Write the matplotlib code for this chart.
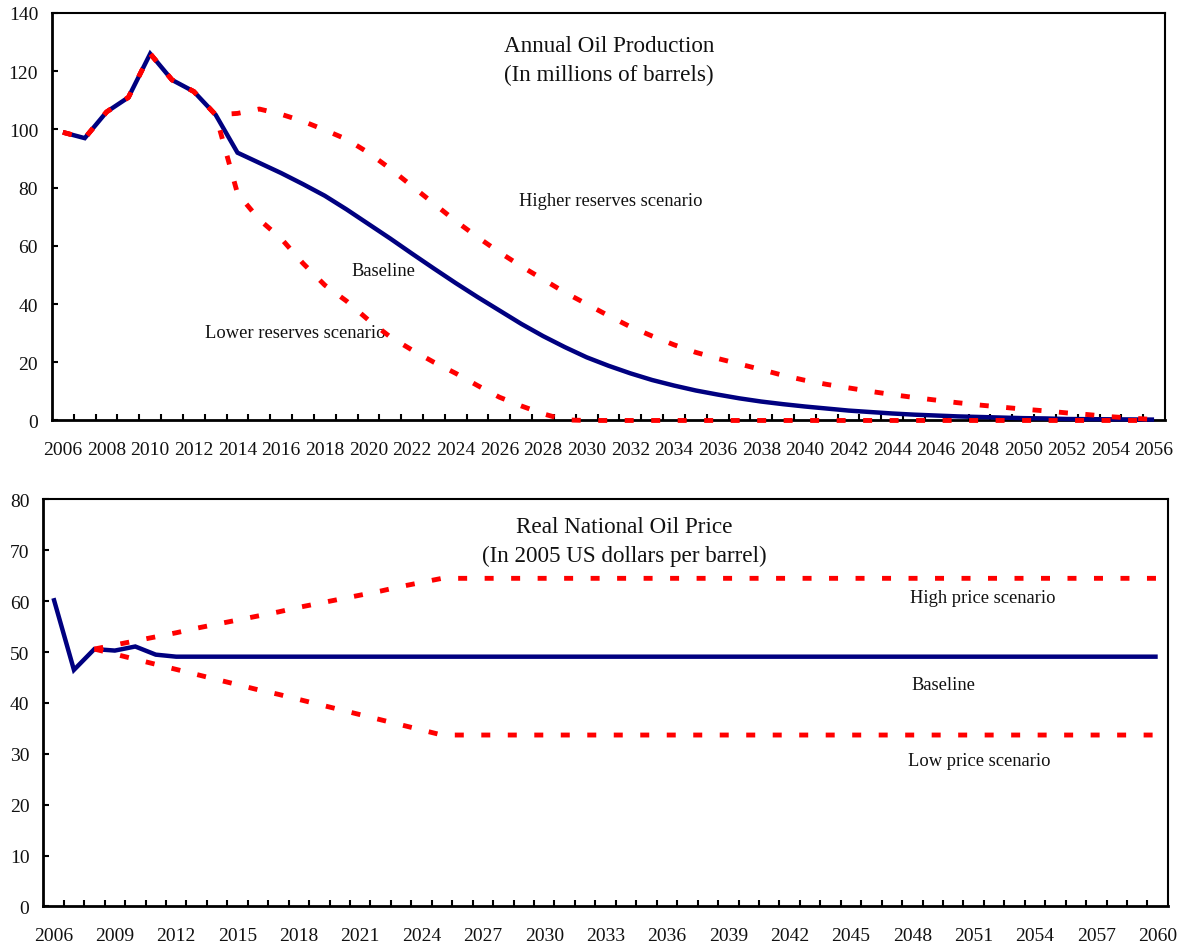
import matplotlib
matplotlib.use("Agg")
import matplotlib.pyplot as plt
import numpy as np

plt.rcParams['font.family'] = ['Liberation Serif', 'DejaVu Serif']

# ---------------- Data: Annual Oil Production ----------------
prod_years = list(range(2006, 2057))
prod_baseline = [99, 97, 106, 111, 126, 117, 113, 105, 92, 88.5,
                 85, 81.2, 77.2, 72.5, 67.5, 62.5, 57.3, 52.2, 47.2, 42.4,
                 37.8, 33.2, 29.0, 25.2, 21.7, 18.8, 16.2, 13.9, 12.0, 10.3,
                 8.9, 7.6, 6.5, 5.6, 4.8, 4.1, 3.4, 2.9, 2.4, 2.0,
                 1.7, 1.4, 1.2, 1.0, 0.8, 0.7, 0.5, 0.45, 0.4, 0.35, 0.3]
prod_higher = [99, 97, 106, 111, 126, 117, 113, 105, 105.5, 107,
               105.2, 102.8, 99.8, 96.6, 92, 86.5, 80.5, 74.5, 68.5, 63,
               57.8, 53, 48.5, 44, 40, 36, 32.2, 29, 26, 23.4,
               21.3, 19.4, 17.5, 15.5, 13.8, 12.4, 11.2, 10, 8.9, 7.9,
               7, 6.1, 5.3, 4.6, 3.9, 3.3, 2.6, 2.0, 1.3, 0.8, 0.3]
prod_lower = [99, 97, 106, 111, 126, 117, 113, 105, 78, 69,
              62.5, 54, 46.5, 41, 34.5, 28.7, 24.2, 20, 16.2, 12,
              8, 5, 2.3, 0.2, 0, 0, 0, 0, 0, 0,
              0, 0, 0, 0, 0, 0, 0, 0, 0, 0,
              0, 0, 0, 0, 0, 0, 0, 0, 0, 0, 0]
prod_tick_labels = [str(y) for y in range(2006, 2057, 2)]

# ---------------- Data: Real National Oil Price ----------------
price_years = list(range(2006, 2061))
price_baseline = [60.6, 46.5, 50.6, 50.3, 51.1, 49.5] + [49.1] * 49
price_high = [np.nan, np.nan,
              50.6, 51.4, 52.2, 53.0, 53.8, 54.7, 55.5, 56.3, 57.1, 57.9,
              58.8, 59.6, 60.4, 61.2, 62.0, 62.9, 63.7, 64.5] + [64.5] * 35
price_low = [np.nan, np.nan,
             50.6, 49.6, 48.6, 47.6, 46.6, 45.6, 44.6, 43.6, 42.6, 41.7,
             40.7, 39.7, 38.7, 37.7, 36.7, 35.7, 34.7, 33.7] + [33.7] * 35
price_tick_labels = [str(y) for y in range(2006, 2061, 3)]

NAVY = '#000080'
RED = '#ff0000'
TXT = '#111111'

fig = plt.figure(figsize=(11.82, 9.45), dpi=100)
ax1 = fig.add_axes([0.0440, 0.554, 0.9416, 0.4312])
ax2 = fig.add_axes([0.0366, 0.0397, 0.9515, 0.4307])


def style_axis(ax, n, labeled_years, all_years):
    ax.set_xlim(-0.5, n - 0.5)
    # tick marks between categories
    ax.set_xticks([i + 0.5 for i in range(n - 1)])
    ax.set_xticklabels([])
    ax.tick_params(axis='x', which='major', direction='in', length=4.5,
                   width=1.5, color='black')
    # labels at category centres
    pos = [all_years.index(int(l)) for l in labeled_years]
    ax.set_xticks(pos, minor=True)
    ax.set_xticklabels(labeled_years, minor=True)
    ax.tick_params(axis='x', which='minor', length=0, pad=14.5,
                   labelsize=14, labelcolor=TXT)
    ax.tick_params(axis='y', direction='in', length=4.5, width=1.5,
                   pad=10, labelsize=14, labelcolor=TXT)
    for s in ['left', 'bottom']:
        ax.spines[s].set_linewidth(2.0)
    for s in ['top', 'right']:
        ax.spines[s].set_linewidth(1.5)


# ---------------- Top chart ----------------
x1 = np.arange(len(prod_years))
ax1.plot(x1, prod_baseline, color=NAVY, lw=3.2, solid_capstyle='butt',
         solid_joinstyle='miter', clip_on=False, zorder=3)
ax1.plot(x1, prod_higher, color=RED, lw=3.5, dashes=(1.85, 3.6),
         clip_on=False, zorder=4)
ax1.plot(x1, prod_lower, color=RED, lw=3.5, dashes=(1.85, 3.6),
         clip_on=False, zorder=4)
ax1.set_ylim(0, 140)
ax1.set_yticks(range(0, 141, 20))
style_axis(ax1, len(prod_years), prod_tick_labels, prod_years)

ax1.text(25.02, 128.8, 'Annual Oil Production', ha='center', va='center',
         fontsize=16.7, color=TXT)
ax1.text(25.02, 119.0, '(In millions of barrels)', ha='center', va='center',
         fontsize=16.7, color=TXT)
ax1.text(25.1, 75.7, 'Higher reserves scenario', ha='center', va='center',
         fontsize=13.3, color=TXT)
ax1.text(14.68, 51.5, 'Baseline', ha='center', va='center',
         fontsize=13.3, color=TXT)
ax1.text(10.66, 30.1, 'Lower reserves scenario', ha='center', va='center',
         fontsize=13.3, color=TXT)

# ---------------- Bottom chart ----------------
x2 = np.arange(len(price_years))
ax2.plot(x2, price_baseline, color=NAVY, lw=3.2, solid_capstyle='butt',
         solid_joinstyle='miter', zorder=3)
ax2.plot(x2, price_high, color=RED, lw=3.5, dashes=(1.85, 3.6), zorder=4)
ax2.plot(x2, price_low, color=RED, lw=3.5, dashes=(1.85, 3.6), zorder=4)
ax2.set_ylim(0, 80)
ax2.set_yticks(range(0, 81, 10))
style_axis(ax2, len(price_years), price_tick_labels, price_years)

ax2.text(27.9, 74.6, 'Real National Oil Price', ha='center', va='center',
         fontsize=16.7, color=TXT)
ax2.text(27.9, 69.0, '(In 2005 US dollars per barrel)', ha='center',
         va='center', fontsize=16.7, color=TXT)
ax2.text(45.44, 60.8, 'High price scenario', ha='center', va='center',
         fontsize=13.3, color=TXT)
ax2.text(43.54, 43.7, 'Baseline', ha='center', va='center',
         fontsize=13.3, color=TXT)
ax2.text(45.25, 28.7, 'Low price scenario', ha='center', va='center',
         fontsize=13.3, color=TXT)

fig.savefig('out.png', dpi=100)
